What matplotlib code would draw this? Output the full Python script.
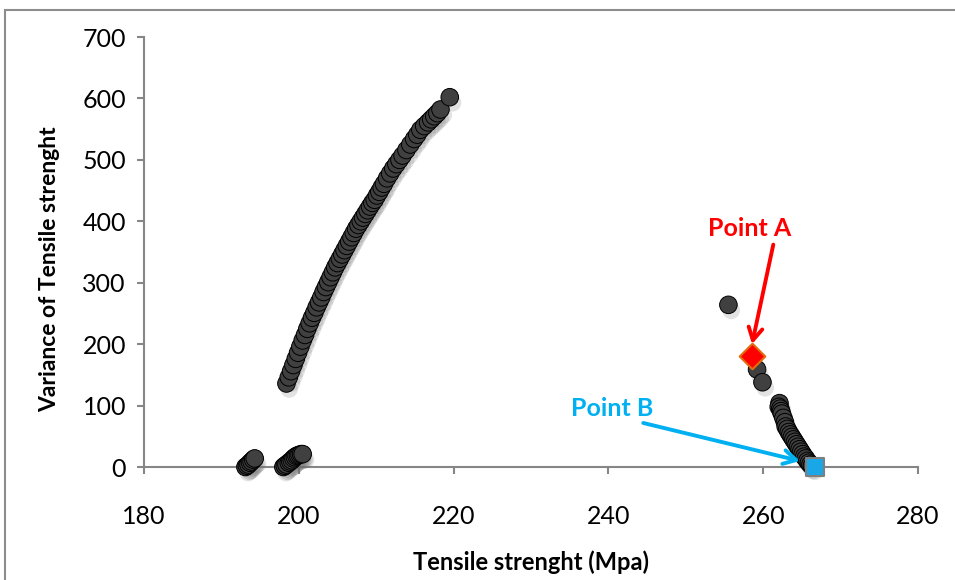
import matplotlib
matplotlib.use("Agg")
import matplotlib.pyplot as plt
import matplotlib.patheffects as pe
from matplotlib.patches import Rectangle

plt.rcParams['font.family'] = ['Lato', 'DejaVu Sans']

# main branch (strength vs variance)
curve_x = [198.4, 198.7, 199.0, 199.3, 199.6, 199.9, 200.2, 200.5, 200.8, 201.1,
           201.4, 201.7, 202.0, 202.3, 202.6, 202.9, 203.2, 203.5, 203.8, 204.1,
           204.4, 204.7, 205.0, 205.3, 205.6, 205.9, 206.2, 206.5, 206.8, 207.1,
           207.4, 207.7, 208.0, 208.3, 208.6, 208.9, 209.2, 209.5, 209.8, 210.1,
           210.4, 210.7, 211.0, 211.4, 211.8, 212.2, 212.6, 213.0, 213.4, 213.9,
           214.4, 214.9, 215.3, 215.7, 216.2, 216.7, 217.1, 217.5, 217.9, 218.3,
           219.5]
curve_y = [136, 146, 156, 166, 176, 186, 196, 206, 215, 225,
           234, 243, 251, 260, 268, 276, 285, 293, 301, 309,
           317, 325, 332, 339, 346, 353, 360, 367, 374, 381,
           388, 394, 400, 406, 412, 418, 424, 430, 435, 442,
           448, 455, 461, 470, 478, 486, 493, 500, 507, 516,
           525, 534, 541, 549, 555, 561, 566, 571, 576, 582,
           602]

# small groups lying on the x axis
low1_x = [193.1, 193.3, 193.5, 193.7, 193.9, 194.1, 194.3]
low1_y = [0, 2, 4, 7, 9, 12, 14]
low2_x = [198.0, 198.2, 198.4, 198.7, 198.9, 199.1, 199.3, 199.5, 199.7, 199.9, 200.1, 200.3, 200.5]
low2_y = [0, 2, 4, 7, 9, 11, 14, 16, 18, 19, 20, 21, 21]

# right branch
right_x = [255.5, 259.2, 259.9, 262.1, 262.0, 262.2, 262.3, 262.4, 262.6, 262.8,
           262.9, 263.1, 263.3, 263.5, 263.7, 263.9, 264.1, 264.3, 264.5, 264.7,
           264.9, 265.1, 265.3, 265.5, 265.7, 265.9, 266.1, 266.3]
right_y = [264, 159, 138, 104, 98, 95, 91, 87, 80, 73,
           66, 62, 57, 53, 49, 45, 41, 37, 33, 29,
           25, 21, 17, 14, 10, 7, 4, 2]

point_a = (258.6, 181)
point_b = (266.7, 0)

fig = plt.figure(figsize=(9.55, 5.8), dpi=100)
ax = fig.add_axes([0.1508, 0.1948, 0.8105, 0.7414])

shadow = [pe.SimplePatchShadow(offset=(2, -4), alpha=0.2, shadow_rgbFace='#707070'), pe.Normal()]
kw = dict(s=160, c='#404040', edgecolors='black', linewidths=0.7, zorder=3, clip_on=False)
for xs, ys in [(curve_x, curve_y), (low1_x, low1_y), (low2_x, low2_y), (right_x, right_y)]:
    sc = ax.scatter(xs, ys, **kw)
    sc.set_path_effects(shadow)

ax.scatter([point_a[0]], [point_a[1]], marker='D', s=170, c='#ff0000',
           edgecolors='#e46c0a', linewidths=1.5, zorder=5)
ax.scatter([point_b[0]], [point_b[1]], marker='s', s=150, c='#1aa7e8',
           edgecolors='#7f7f7f', linewidths=1.5, zorder=5, clip_on=False)

# callouts
ax.text(258.3, 389, 'Point A', color='#ff0000', fontsize=18, fontweight='bold',
        ha='center', va='center')
ax.text(240.5, 96, 'Point B', color='#00b0f0', fontsize=18, fontweight='bold',
        ha='center', va='center')
arrow = '->,head_length=0.9,head_width=0.5'
ax.annotate('', xy=(258.55, 200), xytext=(261.3, 362),
            arrowprops=dict(arrowstyle=arrow, color='#ff0000', lw=2.8,
                            shrinkA=0, shrinkB=0))
ax.annotate('', xy=(264.75, 9.8), xytext=(244.5, 71.7),
            arrowprops=dict(arrowstyle=arrow, color='#00b0f0', lw=2.8,
                            shrinkA=0, shrinkB=0))

ax.set_xlim(180, 280)
ax.set_ylim(0, 700)
ax.set_xticks(range(180, 281, 20))
ax.set_yticks(range(0, 701, 100))
for s in ['top', 'right']:
    ax.spines[s].set_visible(False)
for s in ['left', 'bottom']:
    ax.spines[s].set_color('#868686')
    ax.spines[s].set_linewidth(1.5)
ax.tick_params(colors='#868686', length=5, width=1.5, labelcolor='black',
               labelsize=18, pad=8)
ax.tick_params(axis='x', pad=22)
ax.set_xlabel('Tensile strenght (Mpa)', fontsize=17, fontweight='bold')
ax.set_ylabel('Variance of Tensile strenght', fontsize=16.5, fontweight='bold')
ax.xaxis.set_label_coords(0.5, -0.195)
ax.yaxis.set_label_coords(-0.109, 0.46)

# chart area border
fig.patches.append(Rectangle((5 / 955, -0.05), 1.1, 1 - 10 / 580 + 0.05,
                             transform=fig.transFigure, fill=False,
                             edgecolor='#8c8c8c', linewidth=1.5))

fig.savefig('out.png', dpi=100)
